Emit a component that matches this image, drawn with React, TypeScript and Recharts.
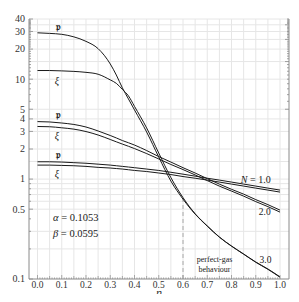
import { LineChart, Line, XAxis, YAxis, ReferenceLine, ReferenceDot } from "recharts";

// η samples and the six curves (p and ξ for N = 3, 2, 1)
const ETA = [0, 0.05, 0.1, 0.15, 0.2, 0.25, 0.3, 0.325, 0.35, 0.375, 0.4, 0.45, 0.5, 0.55, 0.6, 0.65, 0.7, 0.75, 0.8, 0.85, 0.9, 0.95, 1.0];
const N3_P  = [29.1, 28.7, 28.1, 26.5, 23.9, 20.2, 14.2, 11.0, 8.18, 6.34, 4.92, 2.96, 1.66, 0.955, 0.63, 0.446, 0.338, 0.262, 0.213, 0.177, 0.147, 0.125, 0.104];
const N3_XI = [12.2, 12.2, 12.1, 11.96, 11.7, 11.2, 9.83, 9.08, 7.9, 6.8, 5.34, 3.25, 1.82, 1.035, 0.652, 0.45, 0.34, 0.263, 0.214, 0.178, 0.148, 0.126, 0.105];
const N2_P  = [3.76, 3.73, 3.64, 3.52, 3.32, 3.03, 2.73, 2.58, 2.43, 2.31, 2.19, 1.93, 1.68, 1.48, 1.30, 1.15, 1.01, 0.89, 0.79, 0.707, 0.623, 0.555, 0.489];
const N2_XI = [3.36, 3.34, 3.26, 3.16, 2.99, 2.76, 2.49, 2.36, 2.24, 2.13, 2.02, 1.80, 1.59, 1.40, 1.245, 1.10, 0.966, 0.85, 0.758, 0.675, 0.595, 0.53, 0.467];
const N1_P  = [1.49, 1.49, 1.48, 1.46, 1.44, 1.41, 1.38, 1.36, 1.34, 1.32, 1.30, 1.26, 1.22, 1.17, 1.12, 1.07, 1.02, 0.977, 0.933, 0.891, 0.851, 0.812, 0.776];
const N1_XI = [1.38, 1.38, 1.37, 1.36, 1.34, 1.31, 1.29, 1.275, 1.26, 1.24, 1.22, 1.19, 1.15, 1.11, 1.06, 1.02, 0.977, 0.933, 0.891, 0.851, 0.812, 0.776, 0.741];

const DASH_ETA = 0.6;
const DASH_TOP = 0.64;

const Y_DOMAIN = [0.1, 40];
const X_DOMAIN = [-0.035, 1.037];

const Y_LABELS = [0.1, 0.5, 1, 2, 3, 4, 5, 10, 20, 30, 40];
const Y_TICKS = [0.1, 0.2, 0.3, 0.4, 0.5, 0.6, 0.7, 0.8, 0.9, 1, 2, 3, 4, 5, 6, 7, 8, 9, 10,
  11, 12, 13, 14, 15, 16, 17, 18, 19, 20, 21, 22, 23, 24, 25, 26, 27, 28, 29, 30,
  31, 32, 33, 34, 35, 36, 37, 38, 39, 40];
const R_LABELS = [5, 15, 25, 35];
const R_TICKS = [5, 6, 7, 8, 9, 10, 11, 12, 13, 14, 15, 16, 17, 18, 19, 20, 21, 22, 23, 24, 25,
  26, 27, 28, 29, 30, 31, 32, 33, 34, 35, 36, 37, 38, 39, 40];
const X_TICKS = Array.from({ length: 101 }, (_, i) => i / 100);

const GRID_X = [0, 0.05, 0.1, 0.15, 0.2, 0.25, 0.3, 0.35, 0.4, 0.45, 0.5, 0.55, 0.6, 0.65, 0.7, 0.75, 0.8, 0.85, 0.9, 0.95, 1.0];
const GRID_Y = [0.2, 0.3, 0.5, 0.6, 0.7, 0.8, 0.9, 1, 1.5, 2, 3, 4, 5, 10, 15, 20, 25, 30, 35, 40];

// text on the plot, anchored in data coordinates
const NOTES = [
  { x: 0.085, y: 33.5, text: "𝔭", size: 10 },
  { x: 0.08, y: 9.8, text: "ξ", size: 10 },
  { x: 0.085, y: 4.4, text: "𝔭", size: 10 },
  { x: 0.08, y: 2.7, text: "ξ", size: 10 },
  { x: 0.085, y: 1.78, text: "𝔭", size: 10 },
  { x: 0.08, y: 1.15, text: "ξ", size: 10 },
  { x: 0.937, y: 0.47, text: "2.0", size: 9.5 },
  { x: 0.94, y: 0.157, text: "3.0", size: 9.5 },
  { x: 0.73, y: 0.161, text: "perfect-gas", size: 8 },
  { x: 0.73, y: 0.128, text: "behaviour", size: 8 },
];

const data = ETA.map((eta, i) => ({
  eta,
  n3p: N3_P[i], n3x: N3_XI[i],
  n2p: N2_P[i], n2x: N2_XI[i],
  n1p: N1_P[i], n1x: N1_XI[i],
}));

const SERIES = ["n3p", "n3x", "n2p", "n2x", "n1p", "n1x"];

const FONT = "'Liberation Serif', 'DejaVu Serif', serif";
const AXIS = "#8a8a8a";
const GRID = "#e6e6e6";
const INK = "#1a1a1a";

function fmtY(v: number) {
  return v < 1 ? v.toFixed(1) : String(v);
}

function LeftTick({ x, y, payload }: any) {
  const v = payload.value;
  const labeled = Y_LABELS.includes(v);
  const ax = x + 4;
  return (
    <g>
      <line x1={ax} x2={ax + (labeled ? 4 : 2)} y1={y} y2={y} stroke={AXIS} strokeWidth={0.8} />
      {labeled && (
        <text x={x} y={y} dy={3.4} textAnchor="end" fontSize={10} fill="#333" fontFamily={FONT}>
          {fmtY(v)}
        </text>
      )}
    </g>
  );
}

function RightTick({ x, y, payload }: any) {
  const v = payload.value;
  const labeled = R_LABELS.includes(v);
  const ax = x - 4;
  return (
    <g>
      <line x1={ax} x2={ax - (labeled ? 4 : 2)} y1={y} y2={y} stroke={AXIS} strokeWidth={0.8} />
      {labeled && (
        <text x={x} y={y} dy={3.4} textAnchor="start" fontSize={10} fill="#333" fontFamily={FONT}>
          {v}
        </text>
      )}
    </g>
  );
}

function BottomTick({ x, y, payload }: any) {
  const v = payload.value;
  const k = Math.round(v * 100);
  const labeled = k % 10 === 0;
  const ay = y - 3;
  const len = labeled ? 4 : k % 5 === 0 ? 3 : 1.6;
  return (
    <g>
      <line x1={x} x2={x} y1={ay} y2={ay - len} stroke={AXIS} strokeWidth={0.7} />
      {labeled && (
        <text x={x} y={y} dy={6} textAnchor="middle" fontSize={9.5} fill="#333" fontFamily={FONT}>
          {v.toFixed(1)}
        </text>
      )}
    </g>
  );
}

function EtaLabel({ viewBox }: any) {
  const { x, y, width } = viewBox;
  return (
    <text x={x + width / 2} y={y + 17.5} textAnchor="middle" fontSize={12} fontStyle="italic" fill="#333" fontFamily={FONT}>
      η
    </text>
  );
}

export default function App() {
  return (
    <div style={{ margin: -8, width: 299, height: 302, overflow: "hidden", background: "#fff" }}>
      <LineChart
        width={310}
        height={302}
        data={data}
        margin={{ top: 19, right: 0, bottom: 0, left: 0 }}
        style={{ fontFamily: FONT }}
      >
        {/* grid */}
        {GRID_X.map((g) => (
          <ReferenceLine key={"gx" + g} x={g} yAxisId="left" stroke={GRID} strokeWidth={1} />
        ))}
        {GRID_Y.map((g) => (
          <ReferenceLine key={"gy" + g} y={g} yAxisId="left" stroke={GRID} strokeWidth={1} />
        ))}

        <XAxis
          dataKey="eta"
          type="number"
          domain={X_DOMAIN}
          allowDataOverflow
          ticks={X_TICKS}
          interval={0}
          height={23}
          tickSize={0}
          tickMargin={3}
          tickLine={false}
          axisLine={{ stroke: AXIS }}
          tick={<BottomTick />}
          label={<EtaLabel />}
        />
        <YAxis
          yAxisId="left"
          type="number"
          scale="log"
          domain={Y_DOMAIN}
          allowDataOverflow
          ticks={Y_TICKS}
          interval={0}
          width={29}
          tickSize={0}
          tickMargin={4}
          tickLine={false}
          axisLine={{ stroke: AXIS }}
          tick={<LeftTick />}
        />
        <YAxis
          yAxisId="right"
          orientation="right"
          type="number"
          scale="log"
          domain={Y_DOMAIN}
          allowDataOverflow
          ticks={R_TICKS}
          interval={0}
          width={21}
          tickSize={0}
          tickMargin={4}
          tickLine={false}
          axisLine={{ stroke: AXIS }}
          tick={<RightTick />}
        />

        <ReferenceLine
          yAxisId="left"
          segment={[{ x: DASH_ETA, y: Y_DOMAIN[0] }, { x: DASH_ETA, y: DASH_TOP }]}
          stroke="#a8a8a8"
          strokeDasharray="4 3"
        />

        {SERIES.map((k) => (
          <Line
            key={k}
            yAxisId="left"
            dataKey={k}
            type="monotone"
            stroke={INK}
            strokeWidth={1}
            dot={false}
            isAnimationActive={false}
          />
        ))}
        <Line yAxisId="right" dataKey="n1p" stroke="none" dot={false} isAnimationActive={false} legendType="none" />

        {NOTES.map((n, i) => (
          <ReferenceDot
            key={"n" + i}
            yAxisId="left"
            x={n.x}
            y={n.y}
            r={0}
            shape={(p: any) => (
              <text
                x={p.cx}
                y={p.cy}
                dy={3.5}
                textAnchor="middle"
                fontSize={n.size}
                fill={INK}
                fontFamily={n.text === "𝔭" ? "'DejaVu Sans', 'Noto Sans', serif" : FONT}
                fontStyle={n.text === "ξ" ? "italic" : "normal"}
                fontWeight={n.text === "𝔭" ? 700 : 400}
              >
                {n.text}
              </text>
            )}
          />
        ))}
        <ReferenceDot
          yAxisId="left"
          x={0.9}
          y={1.0}
          r={0}
          shape={(p: any) => (
            <text x={p.cx} y={p.cy} dy={3.5} textAnchor="middle" fontSize={10} fill={INK} fontFamily={FONT}>
              <tspan fontStyle="italic">N</tspan> = 1.0
            </text>
          )}
        />
        <ReferenceDot
          yAxisId="left"
          x={0.064}
          y={0.416}
          r={0}
          shape={(p: any) => (
            <text x={p.cx} y={p.cy} dy={3.5} textAnchor="start" fontSize={10.5} fill={INK} fontFamily={FONT}>
              <tspan fontStyle="italic">α</tspan> = 0.1053
            </text>
          )}
        />
        <ReferenceDot
          yAxisId="left"
          x={0.064}
          y={0.287}
          r={0}
          shape={(p: any) => (
            <text x={p.cx} y={p.cy} dy={3.5} textAnchor="start" fontSize={10.5} fill={INK} fontFamily={FONT}>
              <tspan fontStyle="italic">β</tspan> = 0.0595
            </text>
          )}
        />
      </LineChart>
    </div>
  );
}
